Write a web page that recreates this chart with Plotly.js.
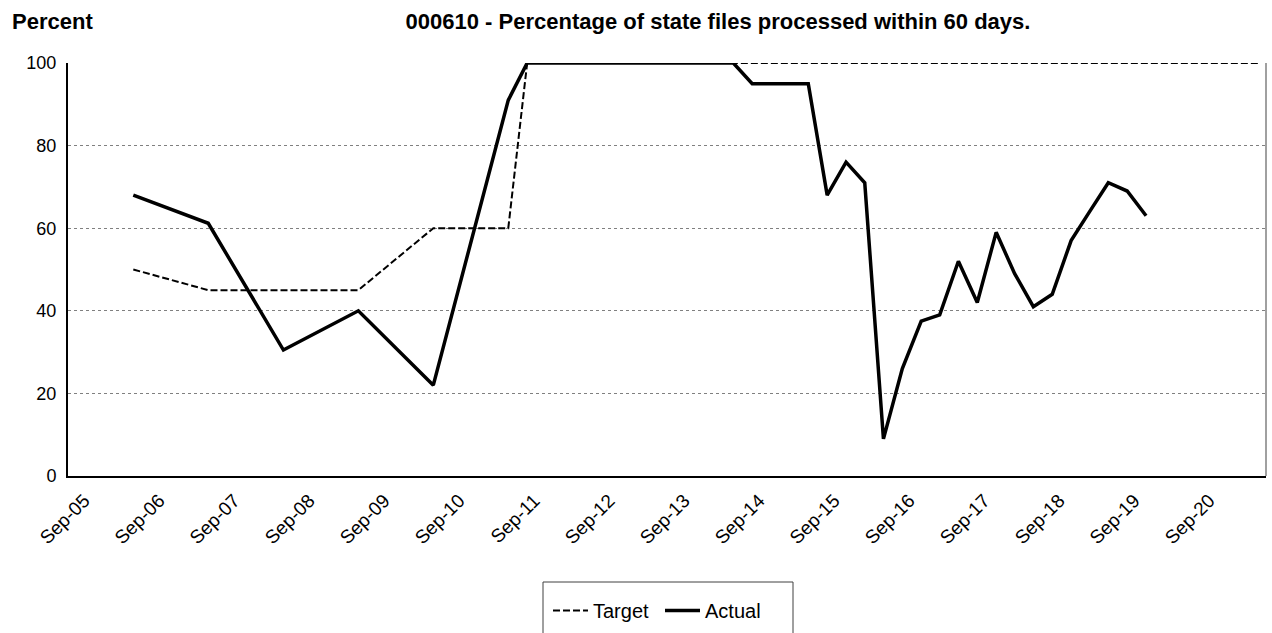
<!DOCTYPE html>
<html>
<head>
<meta charset="utf-8">
<script src="https://cdn.plot.ly/plotly-3.0.1.min.js"></script>
<style>
  html, body { margin: 0; padding: 0; background: #ffffff; }
  #chart { width: 1272px; height: 633px; }
</style>
</head>
<body>
<div id="chart"></div>
<script>
// ---- Data ----
const chartTitle = '000610 - Percentage of state files processed within 60 days.';
const yAxisLabel = 'Percent';

const tickDates = ['2005-09-01','2006-09-01','2007-09-01','2008-09-01','2009-09-01','2010-09-01',
  '2011-09-01','2012-09-01','2013-09-01','2014-09-01','2015-09-01','2016-09-01',
  '2017-09-01','2018-09-01','2019-09-01','2020-09-01'];
const tickLabels = ['Sep-05','Sep-06','Sep-07','Sep-08','Sep-09','Sep-10','Sep-11','Sep-12',
  'Sep-13','Sep-14','Sep-15','Sep-16','Sep-17','Sep-18','Sep-19','Sep-20'];

const targetDates = ['2006-06-30','2007-06-30','2008-06-30','2009-06-30','2010-06-30','2011-06-30',
  '2011-09-30','2011-12-31','2012-03-31','2012-06-30','2012-09-30','2012-12-31',
  '2013-03-31','2013-06-30','2013-09-30','2013-12-31','2014-03-31','2014-06-30',
  '2014-09-30','2014-12-31','2015-03-31','2015-06-30','2015-09-30','2015-12-31',
  '2016-03-31','2016-06-30','2016-09-30','2016-12-31','2017-03-31','2017-06-30',
  '2017-09-30','2017-12-31','2018-03-31','2018-06-30','2018-09-30','2018-12-31',
  '2019-03-31','2019-06-30','2019-09-30','2019-12-31','2020-03-31','2020-06-30',
  '2020-09-30','2020-12-31','2021-03-31','2021-06-30'];
const targetValues = [50, 45, 45, 45, 60, 60,
  100, 100, 100, 100, 100, 100,
  100, 100, 100, 100, 100, 100,
  100, 100, 100, 100, 100, 100,
  100, 100, 100, 100, 100, 100,
  100, 100, 100, 100, 100, 100,
  100, 100, 100, 100, 100, 100,
  100, 100, 100, 100];

const actualDates = ['2006-06-30','2007-06-30','2008-06-30','2009-06-30','2010-06-30','2011-06-30',
  '2011-09-30','2011-12-31','2012-03-31','2012-06-30','2012-09-30','2012-12-31',
  '2013-03-31','2013-06-30','2013-09-30','2013-12-31','2014-03-31','2014-06-30',
  '2014-09-30','2014-12-31','2015-03-31','2015-06-30','2015-09-30','2015-12-31',
  '2016-03-31','2016-06-30','2016-09-30','2016-12-31','2017-03-31','2017-06-30',
  '2017-09-30','2017-12-31','2018-03-31','2018-06-30','2018-09-30','2018-12-31',
  '2019-03-31','2019-06-30','2019-09-30','2019-12-31'];
const actualValues = [68, 61.2, 30.5, 40, 22, 91,
  100, 100, 100, 100, 100, 100,
  100, 100, 100, 100, 100, 100,
  95, 95, 95, 95, 68, 76,
  71, 9, 26, 37.5, 39, 52,
  42, 59, 49, 41, 44, 57,
  64, 71, 69, 63];

const yTicks = [0, 20, 40, 60, 80, 100];

// ---- Chart ----
const FONT = 'Liberation Sans, Arial, sans-serif';

const traces = [
  {
    x: targetDates, y: targetValues, name: 'Target', type: 'scatter', mode: 'lines',
    line: { color: '#000000', width: 2, dash: '7px,3px' }
  },
  {
    x: actualDates, y: actualValues, name: 'Actual', type: 'scatter', mode: 'lines',
    line: { color: '#000000', width: 3.5 }
  }
];

const layout = {
  width: 1272, height: 633,
  margin: { l: 68, r: 6, t: 63, b: 157 },
  paper_bgcolor: '#ffffff', plot_bgcolor: '#ffffff',
  font: { family: FONT, size: 18, color: '#000000' },
  title: {
    text: '<b>' + chartTitle + '</b>',
    x: 718 / 1272, xref: 'container', xanchor: 'center',
    y: 1 - 21 / 633, yref: 'container', yanchor: 'middle',
    font: { family: FONT, size: 22, color: '#000000' }
  },
  annotations: [{
    text: '<b>' + yAxisLabel + '</b>', xref: 'paper', yref: 'paper',
    x: (10 - 68) / 1198, xanchor: 'left', y: (476 - 21) / 413, yanchor: 'middle',
    showarrow: false, font: { family: FONT, size: 22, color: '#000000' }
  }],
  xaxis: {
    type: 'date',
    range: ['2005-08-16', '2021-08-06'],
    tickmode: 'array', tickvals: tickDates, ticktext: tickLabels,
    tickangle: -45, ticks: '', showgrid: false, zeroline: false,
    showline: true, linecolor: '#000000', linewidth: 2,
    tickfont: { family: FONT, size: 19, color: '#000000' },
    ticklabelstandoff: 4, ticklabelshift: 13, automargin: false
  },
  yaxis: {
    range: [0, 100], tickmode: 'array', tickvals: yTicks,
    ticks: '', showgrid: true, gridcolor: '#808080', gridwidth: 1, griddash: 'dot',
    zeroline: false, showline: true, linecolor: '#000000', linewidth: 2,
    tickfont: { family: FONT, size: 18, color: '#000000' },
    ticklabelstandoff: 6, automargin: false
  },
  shapes: [
    { type: 'line', xref: 'paper', yref: 'paper', x0: 1, x1: 1, y0: 0, y1: 1,
      line: { color: '#808080', width: 1.5 } },
    { type: 'rect', xref: 'paper', yref: 'paper',
      x0: (543 - 68) / 1198, x1: (793 - 68) / 1198,
      y0: -(660 - 476) / 413, y1: -(582 - 476) / 413,
      line: { color: '#404040', width: 1 }, fillcolor: 'rgba(0,0,0,0)' }
  ],
  showlegend: true,
  legend: {
    orientation: 'h', xref: 'container', x: 548 / 1272, xanchor: 'left',
    yref: 'container', y: 1 - 591 / 633, yanchor: 'top',
    itemwidth: 35, entrywidth: 62, entrywidthmode: 'pixels',
    bgcolor: 'rgba(0,0,0,0)', borderwidth: 0,
    font: { family: FONT, size: 20, color: '#000000' }
  }
};

Plotly.newPlot('chart', traces, layout, { displayModeBar: false, staticPlot: true });
</script>
</body>
</html>
